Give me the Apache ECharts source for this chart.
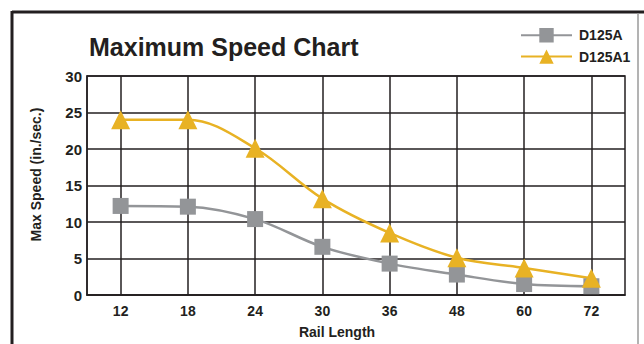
<!DOCTYPE html>
<html>
<head>
<meta charset="utf-8">
<script src="https://cdn.jsdelivr.net/npm/echarts@6/dist/echarts.min.js"></script>
<style>
  html, body { margin: 0; padding: 0; background: #fff; }
  #chart { width: 644px; height: 344px; }
</style>
</head>
<body>
<div id="chart"></div>
<script>
// rail length categories (in.)
const railLengths = ['12', '18', '24', '30', '36', '48', '60', '72'];
// max speed values (in./sec.)
const d125a = [12.2, 12.1, 10.4, 6.6, 4.3, 2.8, 1.5, 1.2];
const d125a1 = [24, 24, 20.1, 13.2, 8.5, 5.1, 3.7, 2.3];

const INK = '#231f20';
const GREY = '#939598';
const GOLD = '#e8b224';
const FONT = 'Liberation Sans';

const chart = echarts.init(document.getElementById('chart'), null, { renderer: 'svg' });

const option = {
  animation: false,
  title: {
    text: 'Maximum Speed Chart',
    left: 84,
    top: 29,
    textStyle: { fontFamily: FONT, fontWeight: 'bold', fontSize: 25, color: INK }
  },
  legend: {
    orient: 'vertical',
    left: 515,
    top: 23,
    itemWidth: 51,
    itemHeight: 18,
    itemGap: 7,
    textStyle: { fontFamily: FONT, fontWeight: 'bold', fontSize: 14, color: INK, padding: [0, 0, 0, 2] },
    data: ['D125A', 'D125A1']
  },
  grid: {
    left: 87, right: 19, top: 76, bottom: 47,
    show: true, borderColor: INK, borderWidth: 1.5
  },
  xAxis: {
    type: 'category',
    data: railLengths,
    name: 'Rail Length',
    nameLocation: 'middle',
    nameGap: 30,
    nameTextStyle: { fontFamily: FONT, fontWeight: 'bold', fontSize: 14, color: INK, padding: [0, 38, 0, 0] },
    axisLine: { lineStyle: { color: INK, width: 1.5 } },
    axisTick: { show: false },
    axisLabel: { margin: 9, fontFamily: FONT, fontWeight: 'bold', fontSize: 14, color: INK },
    splitLine: { show: true, alignWithLabel: true, lineStyle: { color: INK, width: 1.5 } }
  },
  yAxis: {
    type: 'value',
    min: 0, max: 30, interval: 5,
    name: 'Max Speed (in./sec.)',
    nameLocation: 'middle',
    nameGap: 44,
    nameTextStyle: { fontFamily: FONT, fontWeight: 'bold', fontSize: 14, color: INK, padding: [0, 0, 0, 22] },
    axisLine: { show: true, lineStyle: { color: INK, width: 1.5 } },
    axisTick: { show: false },
    axisLabel: { margin: 5, fontFamily: FONT, fontWeight: 'bold', fontSize: 15, color: INK },
    splitLine: { lineStyle: { color: INK, width: 1.5 } }
  },
  series: [
    {
      name: 'D125A',
      type: 'line',
      data: d125a,
      smooth: 0.35,
      symbol: 'rect',
      symbolSize: 16,
      color: GREY,
      lineStyle: { width: 2.5, color: GREY },
      itemStyle: { color: GREY }
    },
    {
      name: 'D125A1',
      type: 'line',
      data: d125a1,
      smooth: 0.35,
      symbol: 'triangle',
      symbolSize: 19,
      color: GOLD,
      lineStyle: { width: 2.5, color: GOLD },
      itemStyle: { color: GOLD }
    }
  ],
  graphic: [
    { type: 'line', shape: { x1: 12, y1: 12, x2: 644, y2: 12 }, style: { stroke: INK, lineWidth: 3 } },
    { type: 'line', shape: { x1: 12, y1: 11, x2: 12, y2: 344 }, style: { stroke: INK, lineWidth: 3 } },
    { type: 'line', shape: { x1: 638, y1: 13, x2: 638, y2: 344 }, style: { stroke: '#9a9a9a', lineWidth: 1.5 } }
  ]
};

chart.setOption(option);
</script>
</body>
</html>
